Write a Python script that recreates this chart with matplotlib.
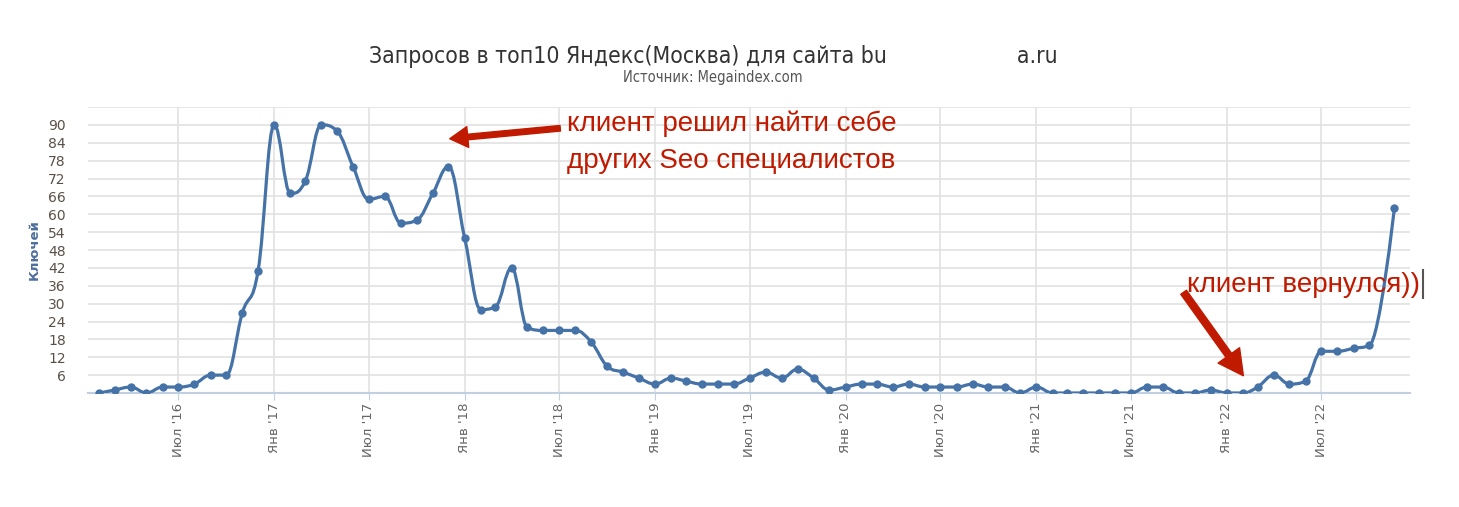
import matplotlib
matplotlib.use("Agg")
import matplotlib.pyplot as plt
import matplotlib.dates as mdates
import pandas as pd
from matplotlib.path import Path
from matplotlib.patches import PathPatch, FancyArrowPatch
from matplotlib.lines import Line2D
from matplotlib.ticker import FuncFormatter

# Данные: ключи в топ10 по месяцам (фев 2016 - окт 2022) + последняя точка
keys_2016 = [0, 1, 2, 0, 2, 2, 3, 6, 6, 27, 41]          # фев..дек
keys_2017 = [90, 67, 71, 90, 88, 76, 65, 66, 57, 58, 67, 76]
keys_2018 = [52, 28, 29, 42, 22, 21, 21, 21, 17, 9, 7, 5]
keys_2019 = [3, 5, 4, 3, 3, 3, 5, 7, 5, 8, 5, 1]
keys_2020 = [2, 3, 3, 2, 3, 2, 2, 2, 3, 2, 2, 0]
keys_2021 = [2, 0, 0, 0, 0, 0, 0, 2, 2, 0, 0, 1]
keys_2022 = [0, 0, 2, 6, 3, 4, 14, 14, 15, 16]           # янв..окт
last_date = "2022-11-18"
last_value = 62

tick_dates = pd.date_range("2016-07-01", "2022-07-01", freq="6MS")
tick_labels = ["Июл '16", "Янв '17", "Июл '17", "Янв '18", "Июл '18", "Янв '19",
               "Июл '19", "Янв '20", "Июл '20", "Янв '21", "Июл '21", "Янв '22",
               "Июл '22"]

values = keys_2016 + keys_2017 + keys_2018 + keys_2019 + keys_2020 + keys_2021 + keys_2022
dates = list(pd.date_range("2016-02-01", "2022-10-01", freq="MS")) + [pd.Timestamp(last_date)]
values = values + [last_value]

LINE = "#4572A7"
RED = "#c01a00"


def spline_path(xs, ys, smoothing=1.5):
    # сглаживание как у highcharts (spline)
    n = len(xs)
    verts = [(xs[0], ys[0])]
    codes = [Path.MOVETO]
    right = (xs[0], ys[0])
    d = smoothing + 1
    for i in range(1, n):
        x, y = xs[i], ys[i]
        if i < n - 1:
            lx, ly = xs[i - 1], ys[i - 1]
            nx, ny = xs[i + 1], ys[i + 1]
            lcx = (smoothing * x + lx) / d
            lcy = (smoothing * y + ly) / d
            rcx = (smoothing * x + nx) / d
            rcy = (smoothing * y + ny) / d
            corr = (rcy - lcy) * (rcx - x) / (rcx - lcx) + y - rcy
            lcy += corr
            rcy += corr
            if lcy > ly and lcy > y:
                lcy = max(ly, y); rcy = 2 * y - lcy
            elif lcy < ly and lcy < y:
                lcy = min(ly, y); rcy = 2 * y - lcy
            if rcy > ny and rcy > y:
                rcy = max(ny, y); lcy = 2 * y - rcy
            elif rcy < ny and rcy < y:
                rcy = min(ny, y); lcy = 2 * y - rcy
            left = (lcx, lcy)
            new_right = (rcx, rcy)
        else:
            left = (x, y)
            new_right = None
        verts += [right, left, (x, y)]
        codes += [Path.CURVE4] * 3
        right = new_right
    return Path(verts, codes)


W, H = 1459, 507
fig = plt.figure(figsize=(W / 100, H / 100), dpi=100)
ax = fig.add_axes([88 / W, 1 - 393 / H, (1410 - 88) / W, (393 - 107) / H])

xnum = mdates.date2num(dates)
ax.add_patch(PathPatch(spline_path(list(xnum), values), facecolor="none",
                       edgecolor=LINE, lw=2.3, zorder=3))
ax.plot(dates, values, "o", color=LINE, markersize=6, markeredgewidth=0, zorder=4)

ax.set_xlim(pd.Timestamp("2016-01-10"), pd.Timestamp("2022-12-18"))
ax.set_ylim(0, 96)
ax.set_yticks(range(0, 97, 6))
ax.yaxis.set_major_formatter(FuncFormatter(lambda v, p: "" if v in (0, 96) else f"{int(v)}"))
ax.set_xticks(tick_dates)
ax.set_xticklabels(tick_labels, rotation=90, ha="center", va="top")

ax.grid(True, color="#e2e2e2", lw=1.2)
ax.set_axisbelow(True)
for s in ["top", "left", "right"]:
    ax.spines[s].set_visible(False)
ax.spines["bottom"].set_color("#c0d0e0")
ax.spines["bottom"].set_linewidth(1.5)
ax.tick_params(axis="y", length=0, pad=16, labelsize=10, labelcolor="#5a5048")
ax.tick_params(axis="x", length=5, color="#c0d0e0", pad=2, labelsize=9.5, labelcolor="#666666")
ax.set_ylabel("Ключей", color="#4d6f9e", fontsize=9.5, fontweight="bold")
ax.yaxis.set_label_coords(-0.036, 0.5)

fig.text(713 / W, 1 - 57 / H,
         "Запросов в топ10 Яндекс(Москва) для сайта bu" + " " * 20 + "a.ru",
         ha="center", va="center", fontsize=16.5, color="#333333", fontstretch="condensed")
fig.text(713 / W, 1 - 77.5 / H, "Источник: Megaindex.com", ha="center", va="center",
         fontsize=10.5, color="#555555", fontstretch="condensed")

# аннотации
afont = dict(family="Liberation Sans", fontsize=20, color=RED)
fig.text(567 / W, 1 - 124 / H, "клиент решил найти себе", ha="left", va="center", **afont)
fig.text(567 / W, 1 - 161 / H, "других Seo специалистов", ha="left", va="center", **afont)
fig.text(1187 / W, 1 - 285 / H, "клиент вернулся))", ha="left", va="center", **afont)
fig.add_artist(Line2D([1423 / W, 1423 / W], [1 - 270 / H, 1 - 298 / H],
                      transform=fig.transFigure, color="#555555", lw=1.5))

style1 = "simple,head_length=13,head_width=15,tail_width=4"
style2 = "simple,head_length=18,head_width=19,tail_width=5"
fig.add_artist(FancyArrowPatch((563 / W, 1 - 128 / H), (447 / W, 1 - 139 / H),
                               transform=fig.transFigure, arrowstyle=style1,
                               color=RED, mutation_scale=1))
fig.add_artist(FancyArrowPatch((1182 / W, 1 - 290 / H), (1245 / W, 1 - 378 / H),
                               transform=fig.transFigure, arrowstyle=style2,
                               color=RED, mutation_scale=1))

fig.savefig("out.png", dpi=100, facecolor="white")
